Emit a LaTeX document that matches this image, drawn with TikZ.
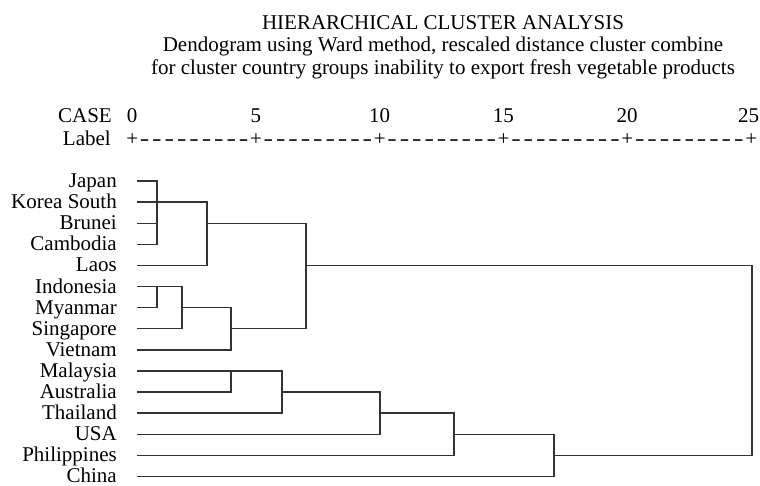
\documentclass[tikz,border=0pt]{standalone}
\usepackage{fontspec}
\usepackage{graphicx}
\setmainfont{Liberation Serif}
\newcommand\dslot[1]{\makebox[12.38pt][c]{#1}}
\newcommand\ddash{\dslot{\scalebox{1.35}[1]{-}}}
\newcommand\dseg{\dslot{+}\ddash\ddash\ddash\ddash\ddash\ddash\ddash\ddash\ddash}
\tikzset{
  txt/.style={inner sep=0pt, font=\fontsize{21}{24}\selectfont},
  lbl/.style={txt, anchor=base east},
  tick/.style={txt, anchor=base},
  tree/.style={draw=black!80, line width=1.4pt, line join=miter, line cap=rect}
}
\begin{document}
\begin{tikzpicture}[x=1pt,y=-1pt]
\useasboundingbox[fill=white] (0,0) rectangle (760,485);
% titles
\node[tick] (t1) at (443,29) {HIERARCHICAL CLUSTER ANALYSIS};
\node[tick] (t2) at (443,51.5) {Dendogram using Ward method, rescaled distance cluster combine};
\node[tick] (t3) at (443,74) {for cluster country groups inability to export fresh vegetable products};
% axis
\node[lbl] (case) at (112,122) {CASE};
\node[lbl] (label) at (111,145) {Label};
\node[tick] (k0) at (132,122) {0};
\node[tick] (k5) at (255.8,122) {5};
\node[tick] (k10) at (379.6,122) {10};
\node[tick] (k15) at (503.4,122) {15};
\node[tick] (k20) at (627.2,122) {20};
\node[tick] (k25) at (748.5,122) {25};
\node[txt, anchor=base west] (scale) at (125.81,145) {\dseg\dseg\dseg\dseg\dseg\dslot{+}};
% leaf labels and start points
\foreach \i/\name in {0/Japan,1/Korea South,2/Brunei,3/Cambodia,4/Laos,5/Indonesia,6/Myanmar,7/Singapore,8/Vietnam,9/Malaysia,10/Australia,11/Thailand,12/USA,13/Philippines,14/China}{
  \pgfmathsetmacro\yy{181+21.1*\i}
  \node[lbl] (n\i) at (117,\yy+6.5) {\name};
  \coordinate (s\i) at (138,\yy);
}
% cluster 1: Japan, Korea South, Brunei, Cambodia
\coordinate (a) at (157,0);
\draw[tree] (s0) -- (s0 -| a) -- (s3 -| a) -- (s3);
\draw[tree] (s1) -- (s1 -| a);
\draw[tree] (s2) -- (s2 -| a);
% + Laos
\coordinate (b) at (207,0);
\draw[tree] (s1 -| a) -- (s1 -| b) -- (s4 -| b) -- (s4);
% Indonesia, Myanmar
\draw[tree] (s5) -- (s5 -| a) -- (s6 -| a) -- (s6);
% + Singapore
\coordinate (c) at (182,0);
\draw[tree] (s5 -| a) -- (s5 -| c) -- (s7 -| c) -- (s7);
% + Vietnam
\coordinate (d) at (231,0);
\draw[tree] (s6 -| c) -- (s6 -| d) -- (s8 -| d) -- (s8);
% join the two upper clusters
\coordinate (e) at (306,0);
\draw[tree] (s2 -| b) -- (s2 -| e) -- (s7 -| e) -- (s7 -| d);
% Malaysia, Australia
\draw[tree] (s9) -- (s9 -| d) -- (s10 -| d) -- (s10);
% + Thailand
\coordinate (f) at (282,0);
\draw[tree] (s9 -| d) -- (s9 -| f) -- (s11 -| f) -- (s11);
% + USA
\coordinate (g) at (380,0);
\draw[tree] (s10 -| f) -- (s10 -| g) -- (s12 -| g) -- (s12);
% + Philippines
\coordinate (h) at (454,0);
\draw[tree] (s11 -| g) -- (s11 -| h) -- (s13 -| h) -- (s13);
% + China
\coordinate (i) at (554,0);
\draw[tree] (s12 -| h) -- (s12 -| i) -- (s14 -| i) -- (s14);
% final join
\coordinate (z) at (752,0);
\draw[tree] (s4 -| e) -- (s4 -| z) -- (s13 -| z) -- (s13 -| i);
\end{tikzpicture}
\end{document}
